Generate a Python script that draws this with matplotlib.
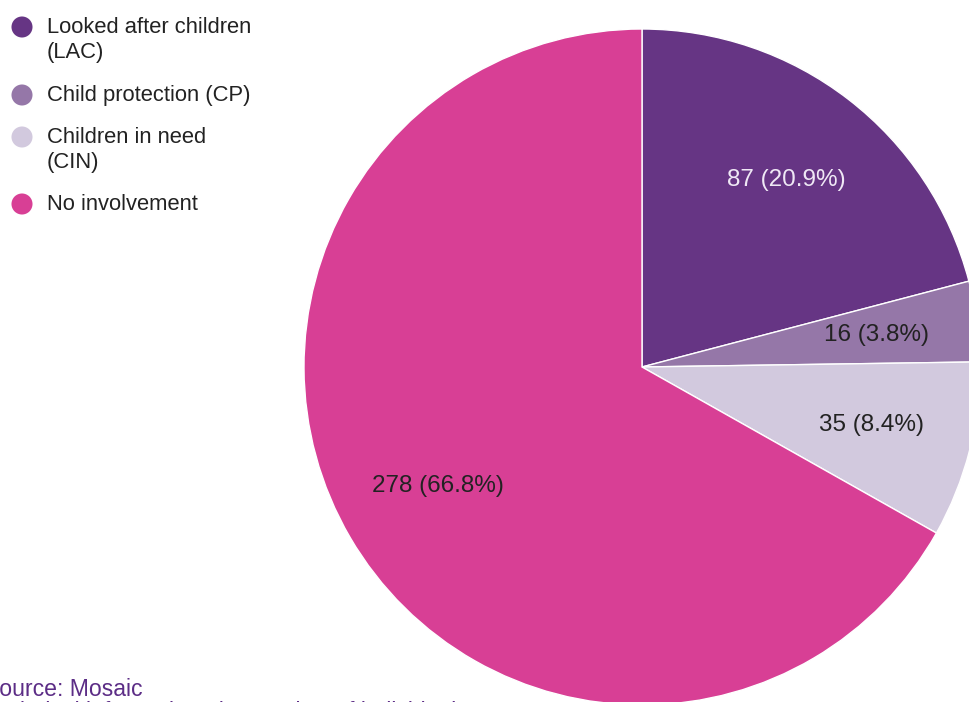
import matplotlib
matplotlib.use("Agg")
import matplotlib.pyplot as plt

# Children's social care involvement
categories = ["Looked after children\n(LAC)", "Child protection (CP)",
              "Children in need\n(CIN)", "No involvement"]
counts = [87, 16, 35, 278]
colors = ["#663584", "#9577a8", "#d2c9de", "#d83f95"]
label_colors = ["#efe8f5", "#222222", "#222222", "#222222"]

W, H = 970, 702
fig = plt.figure(figsize=(W / 100, H / 100), dpi=100)
ax = fig.add_axes([0, 0, 1, 1])

font = "Liberation Sans"
total = sum(counts)


def fmt(pct):
    n = int(round(pct * total / 100.0))
    return f"{n} ({pct:.1f}%)"


wedges, texts, autotexts = ax.pie(
    counts, colors=colors, startangle=90, counterclock=False,
    center=(642, H - 367), radius=338, autopct=fmt, pctdistance=0.7,
    wedgeprops=dict(edgecolor="white", linewidth=1),
    textprops=dict(fontfamily=font, fontsize=17.5), frame=True)
ax.set_xlim(0, W)
ax.set_ylim(0, H)
ax.axis("off")
for t, c in zip(autotexts, label_colors):
    t.set_color(c)

# Legend: coloured dots with wrapped labels
legend_y = [27, 95, 137, 204]
for y, lab, col in zip(legend_y, categories, colors):
    ax.scatter([22], [H - y], s=21 ** 2 * 0.52, color=col, zorder=5,
               edgecolors="none")
    ax.text(47, H - y + 10, lab, fontfamily=font, fontsize=15.8,
            color="#222222", va="top", ha="left", linespacing=1.25)

# Source note
ax.text(-16, H - 696, "Source: Mosaic", fontfamily=font, fontsize=16.6,
        color="#5c2d86", va="baseline", ha="left")
ax.text(-16, H - 719, "Technical information: the number of individuals",
        fontfamily=font, fontsize=16.6, color="#5c2d86", va="baseline",
        ha="left", zorder=0)

fig.savefig("out.png", dpi=100)
